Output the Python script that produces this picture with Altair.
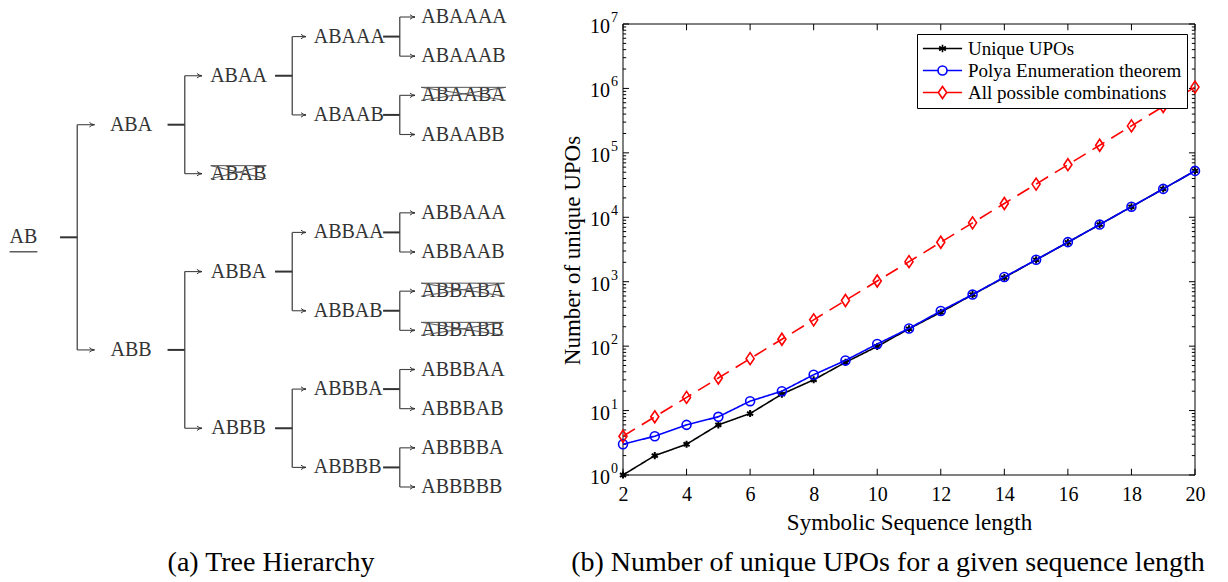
import altair as alt
import pandas as pd

# ---------------- data ----------------
seq_len = list(range(2, 21))
unique_upos = [1, 2, 3, 6, 9, 18, 30, 56, 99, 186, 335, 630, 1161, 2182, 4080,
               7710, 14532, 27594, 52377]
polya_count = [3, 4, 6, 8, 14, 20, 36, 60, 108, 188, 352, 632, 1182, 2192, 4116,
               7712, 14602, 27596, 52488]
all_combinations = [4, 8, 16, 32, 64, 128, 256, 512, 1024, 2048, 4096, 8192,
                    16384, 32768, 65536, 131072, 262144, 524288, 1048576]
series_names = ["Unique UPOs", "Polya Enumeration theorem", "All possible combinations"]
x_tick_values = [2, 4, 6, 8, 10, 12, 14, 16, 18, 20]
y_exponents = [0, 1, 2, 3, 4, 5, 6, 7]
x_domain = [2, 20]
y_domain = [1, 10_000_000]

tree_leaves = ["ABAAAA", "ABAAAB", "ABAABA", "ABAABB", "ABAB",
               "ABBAAA", "ABBAAB", "ABBABA", "ABBABB",
               "ABBBAA", "ABBBAB", "ABBBBA", "ABBBBB"]
crossed_out = ["ABAB", "ABAABA", "ABBABA", "ABBABB"]
captions = ["(a) Tree Hierarchy", "(b) Number of unique UPOs for a given sequence length"]

# ---------------- styles ----------------
SERIF = "Liberation Serif"
series_colors = ["#000000", "#0000ff", "#ff0000"]
series_dash = [[1, 0], [1, 0], [14, 8]]
marker_paths = ["M0,-1V1M-0.87,-0.5L0.87,0.5M-0.87,0.5L0.87,-0.5",
                "circle",
                "M0,-1L0.67,0L0,1L-0.67,0Z"]
marker_sizes = [50, 80, 144]
marker_widths = [2, 1.6, 1.6]
legend_paths = [
    "M-2.8,0H2.8M0,-0.55V0.55M-0.48,-0.28L0.48,0.28M-0.48,0.28L0.48,-0.28",
    "M-2.8,0H-0.64M0.64,0H2.8M0.64,0A0.64,0.64,0,1,1,-0.64,0A0.64,0.64,0,1,1,0.64,0",
    "M-2.8,0H-0.6M0.6,0H2.8M0,-0.86L0.6,0L0,0.86L-0.6,0Z",
]

TREE_FS = 20
tree_x_range = [23.5, 453.5]
tree_y_range = [17, 487]
char_em = {"A": 0.722, "B": 0.667}
half_right = [0.34, 0.34, 0.34, 0.345]
half_left = [0.34, 0.34, 0.34, 0.372, 0.358]

# ---------------- tree layout ----------------
names = []
for leaf in tree_leaves:
    for k in range(2, len(leaf) + 1):
        if leaf[:k] not in names:
            names.append(leaf[:k])
ypos = {leaf: i for i, leaf in enumerate(tree_leaves)}
children = {n: [m for m in names if len(m) == len(n) + 1 and m.startswith(n)] for n in names}
for n in sorted(names, key=len, reverse=True):
    if n not in ypos:
        ypos[n] = sum(ypos[c] for c in children[n]) / len(children[n])

px_x = (tree_x_range[1] - tree_x_range[0]) / 4
px_y = (tree_y_range[1] - tree_y_range[0]) / (len(tree_leaves) - 1)

node_rows, stub_rows, vert_rows, arrow_rows, cross_rows, under_rows = [], [], [], [], [], []
for n in names:
    d = len(n) - 2
    centered = d <= 2
    tx = d if centered else d - 0.30
    node_rows.append({"name": n, "x": tx, "y": ypos[n], "centered": centered})
    w = sum(char_em[c] for c in n) * TREE_FS / px_x
    xs = tx - w / 2 if centered else tx
    if n in crossed_out:
        top, bot = ypos[n] - 8 / px_y, ypos[n] + 5 / px_y
        cross_rows += [
            {"x": xs, "x2": xs + w, "y": top, "y2": top},
            {"x": xs, "x2": xs + w, "y": top, "y2": bot},
            {"x": xs, "x2": xs + w, "y": bot, "y2": top},
        ]
    if d == 0:
        uy = ypos[n] + 14.5 / px_y
        under_rows.append({"x": xs, "x2": xs + w, "y": uy, "y2": uy})
    ch = children[n]
    if ch:
        stub_rows.append({"x": d + half_right[d], "x2": d + 0.5, "y": ypos[n], "y2": ypos[n]})
        ys_ = [ypos[c] for c in ch]
        vert_rows.append({"x": d + 0.5, "x2": d + 0.5, "y": min(ys_), "y2": max(ys_)})
        for c in ch:
            arrow_rows.append({"x": d + 0.5, "x2": d + 1 - half_left[d + 1],
                               "y": ypos[c], "y2": ypos[c]})

node_df = pd.DataFrame(node_rows)
tx_scale = alt.Scale(domain=[0, 4], range=tree_x_range, nice=False, zero=False)
ty_scale = alt.Scale(domain=[0, len(tree_leaves) - 1], range=tree_y_range, nice=False, zero=False)


def tree_rules(rows, color, width):
    return alt.Chart(pd.DataFrame(rows)).mark_rule(color=color, strokeWidth=width).encode(
        x=alt.X("x:Q", scale=tx_scale, axis=None), x2="x2:Q",
        y=alt.Y("y:Q", scale=ty_scale, axis=None), y2="y2:Q")


tree_text_c = alt.Chart(node_df).transform_filter("datum.centered").mark_text(
    font=SERIF, fontSize=TREE_FS, color="#333", align="center", baseline="middle").encode(
    x=alt.X("x:Q", scale=tx_scale, axis=None), y=alt.Y("y:Q", scale=ty_scale, axis=None),
    text="name:N")
tree_text_l = alt.Chart(node_df).transform_filter("!datum.centered").mark_text(
    font=SERIF, fontSize=TREE_FS, color="#333", align="left", baseline="middle").encode(
    x=alt.X("x:Q", scale=tx_scale, axis=None), y=alt.Y("y:Q", scale=ty_scale, axis=None),
    text="name:N")
arrow_heads = alt.Chart(pd.DataFrame(arrow_rows)).mark_point(
    shape="M-2,-0.9Q-1.2,-0.15,0,0Q-1.2,0.15,-2,0.9", size=25, filled=False,
    color="#333", strokeWidth=1, opacity=1).encode(
    x=alt.X("x2:Q", scale=tx_scale, axis=None), y=alt.Y("y:Q", scale=ty_scale, axis=None))

tree = alt.layer(
    tree_rules(vert_rows, "#555", 1.4),
    tree_rules(stub_rows, "#333", 2),
    tree_rules(arrow_rows, "#444", 1.1),
    arrow_heads,
    tree_text_c, tree_text_l,
    tree_rules(cross_rows, "#555", 1),
    tree_rules(under_rows, "#333", 1.2),
)

# ---------------- plot ----------------
plot_df = pd.DataFrame({
    "n": seq_len * 3,
    "value": unique_upos + polya_count + all_combinations,
    "series": sum([[s] * len(seq_len) for s in series_names], []),
})

xs = alt.Scale(domain=x_domain, range=[623, 1195], nice=False, zero=False)
ys = alt.Scale(type="log", domain=y_domain, range=[475, 24], nice=False)
xaxis = alt.Axis(orient="bottom", offset=-107, values=x_tick_values, ticks=False, tickSize=0,
                 domain=False, grid=False, labelFont=SERIF, labelFontSize=20, labelColor="black",
                 labelPadding=9, labelFlush=False, labelOverlap=False,
                 title="Symbolic Sequence length", titleFont=SERIF, titleFontSize=23,
                 titleFontWeight="normal", titleColor="black", titleX=909, titleY=47,
                 titleBaseline="middle")
yaxis = alt.Axis(orient="left", offset=-623, labels=False, ticks=False, tickSize=0, domain=False,
                 grid=False, title="Number of unique UPOs", titleFont=SERIF, titleFontSize=23,
                 titleFontWeight="normal", titleColor="black", titleX=-51, titleY=250,
                 titleAngle=270, titleBaseline="middle", titleAlign="center")


def X(field):
    return alt.X(field, type="quantitative", scale=xs, axis=xaxis)


def Y(field):
    return alt.Y(field, type="quantitative", scale=ys, axis=yaxis)


def XD(v):
    return alt.XDatum(v, scale=xs, axis=xaxis)


def YD(v):
    return alt.YDatum(v, scale=ys, axis=yaxis)


one = pd.DataFrame({"k": [0]})
frame = alt.Chart(one).mark_rect(fillOpacity=0, stroke="#000", strokeWidth=1).encode(
    x=XD(x_domain[0]), x2=alt.X2Datum(x_domain[1]),
    y=YD(y_domain[0]), y2=alt.Y2Datum(y_domain[1]))

xt_df = pd.DataFrame({"t": x_tick_values})
major_df = pd.DataFrame({"v": [10 ** e for e in y_exponents]})
minor_df = pd.DataFrame({"v": [m * 10 ** k for k in y_exponents[:-1] for m in range(2, 10)]})

tick_layers = [
    alt.Chart(xt_df).mark_rule(color="#000").encode(x=X("t"), y=YD(1), y2=alt.Y2Datum(1.25)),
    alt.Chart(xt_df).mark_rule(color="#000").encode(x=X("t"), y=YD(1e7), y2=alt.Y2Datum(1e7 / 1.25)),
    alt.Chart(major_df).mark_rule(color="#000").encode(x=XD(2), x2=alt.X2Datum(2.19), y=Y("v")),
    alt.Chart(major_df).mark_rule(color="#000").encode(x=XD(20), x2=alt.X2Datum(19.81), y=Y("v")),
    alt.Chart(minor_df).mark_rule(color="#000").encode(x=XD(2), x2=alt.X2Datum(2.1), y=Y("v")),
    alt.Chart(minor_df).mark_rule(color="#000").encode(x=XD(20), x2=alt.X2Datum(19.9), y=Y("v")),
]

ylab_df = pd.DataFrame({"v": [10 ** e for e in y_exponents],
                        "base": ["10"] * len(y_exponents),
                        "exp": [str(e) for e in y_exponents]})
ylab_base = alt.Chart(ylab_df).mark_text(font=SERIF, fontSize=20, color="black", align="right",
                                          baseline="middle", dx=-13, dy=3).encode(
    x=XD(2), y=Y("v"), text="base:N")
ylab_exp = alt.Chart(ylab_df).mark_text(font=SERIF, fontSize=14, color="black", align="left",
                                         baseline="middle", dx=-12, dy=-6).encode(
    x=XD(2), y=Y("v"), text="exp:N")

series_layers = []
for i, name in enumerate(series_names):
    base = alt.Chart(plot_df).transform_filter(alt.datum.series == name)
    series_layers.append(base.mark_line(color=series_colors[i], strokeWidth=1.6,
                                        strokeDash=series_dash[i]).encode(x=X("n"), y=Y("value")))
    series_layers.append(base.mark_point(shape=marker_paths[i], size=marker_sizes[i], filled=False,
                                         color=series_colors[i], strokeWidth=marker_widths[i],
                                         opacity=1).encode(x=X("n"), y=Y("value")))

leg_kw = dict(title=None, orient="none", legendX=917, legendY=34, fillColor="white",
              strokeColor="black", padding=5, labelFont=SERIF, labelFontSize=19,
              labelColor="black", labelLimit=400, symbolSize=196, symbolStrokeWidth=1.6,
              symbolOffset=11, labelOffset=16, rowPadding=2)
legend_layer = alt.Chart(plot_df).transform_filter("datum.n < 0").mark_point(
    filled=False, opacity=1, size=196, strokeWidth=1.6).encode(
    x=X("n"), y=Y("value"),
    color=alt.Color("series:N", scale=alt.Scale(domain=series_names, range=series_colors),
                    legend=alt.Legend(**leg_kw)),
    shape=alt.Shape("series:N", scale=alt.Scale(domain=series_names, range=legend_paths),
                    legend=alt.Legend(**leg_kw)),
)

plot = alt.layer(frame, *tick_layers, *series_layers, ylab_base, ylab_exp, legend_layer)

# ---------------- captions ----------------
cap_layers = []
for cap, cx in zip(captions, [271, 888]):
    cap_layers.append(alt.Chart(pd.DataFrame({"t": [cap]})).mark_text(
        font=SERIF, fontSize=28, color="black", align="center", baseline="middle").encode(
        text="t:N", x=alt.value(cx), y=alt.value(563)))

chart = alt.layer(tree, plot, *cap_layers).resolve_scale(
    x="independent", y="independent").properties(
    width=1228, height=582, padding=0,
    autosize=alt.AutoSizeParams(type="none")).configure_view(stroke=None).configure_axis(grid=False)

chart.save("out.html", embed_options={"renderer": "svg", "actions": False})
